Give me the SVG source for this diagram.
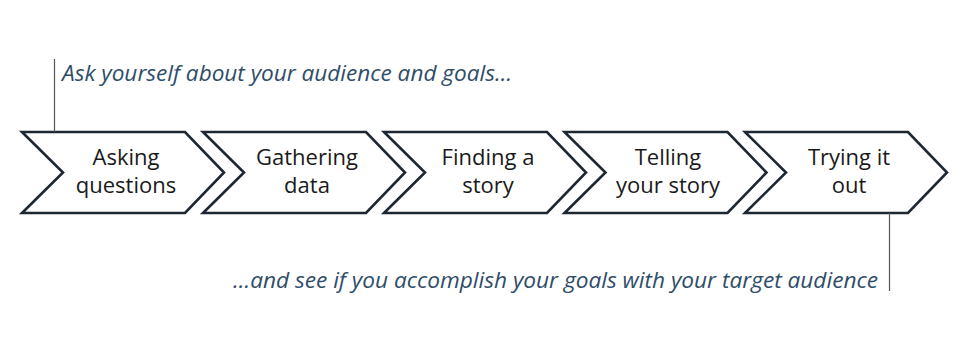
<svg xmlns="http://www.w3.org/2000/svg" width="975" height="359" viewBox="0 0 975 359">
<defs>
<style>
.chev{fill:#ffffff;stroke:#1d2731;stroke-width:2.6;stroke-linejoin:miter}
.lbl{font-family:"Open Sans",Lato,"Liberation Sans",sans-serif;font-size:22px;fill:#1a1a1a;text-anchor:middle}
.note{font-family:"Open Sans",Lato,"Liberation Sans",sans-serif;font-size:21px;font-style:italic;fill:#2f4d68}
.lead{stroke:#555555;stroke-width:1.2;fill:none}
</style>
<polygon id="shape" points="0,0 163,0 202,40.5 163,81 0,81 41,40.5"/>
</defs>
<rect width="975" height="359" fill="#ffffff"/>
<g id="node1"><use href="#shape" class="chev" x="22" y="132"/><text class="lbl" x="126" y="165">Asking</text><text class="lbl" x="126" y="193">questions</text></g>
<g id="node2"><use href="#shape" class="chev" x="203" y="132"/><text class="lbl" x="307" y="165">Gathering</text><text class="lbl" x="307" y="193">data</text></g>
<g id="node3"><use href="#shape" class="chev" x="384" y="132"/><text class="lbl" x="488" y="165">Finding a</text><text class="lbl" x="488" y="193">story</text></g>
<g id="node4"><use href="#shape" class="chev" x="564.5" y="132"/><text class="lbl" x="668" y="165">Telling</text><text class="lbl" x="668" y="193">your story</text></g>
<g id="node5"><use href="#shape" class="chev" x="745" y="132"/><text class="lbl" x="849" y="165">Trying it</text><text class="lbl" x="849" y="193">out</text></g>
<g id="connectors">
<line class="lead" x1="54.5" y1="59" x2="54.5" y2="132"/>
<line class="lead" x1="889.5" y1="213" x2="889.5" y2="291"/>
</g>
<g id="notes">
<text class="note" x="62" y="81" textLength="450" lengthAdjust="spacingAndGlyphs">Ask yourself about your audience and goals…</text>
<text class="note" x="233" y="288" textLength="645" lengthAdjust="spacingAndGlyphs">…and see if you accomplish your goals with your target audience</text>
</g>
</svg>
